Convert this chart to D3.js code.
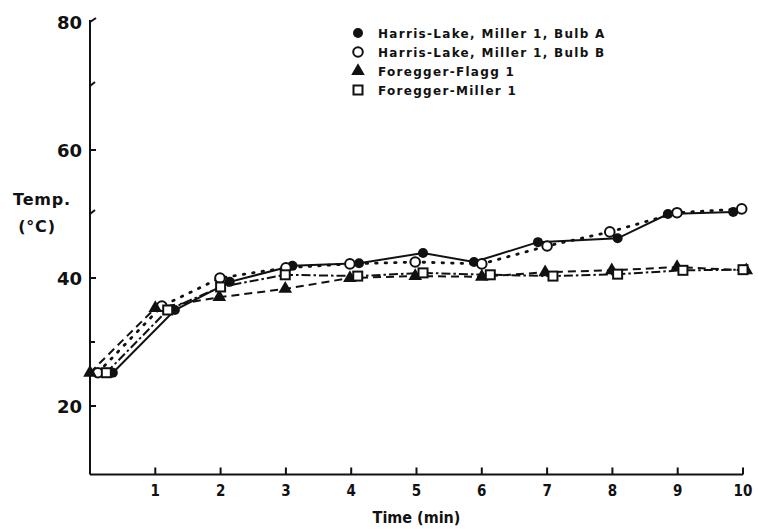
<!DOCTYPE html>
<html>
<head>
<meta charset="utf-8">
<script src="https://cdn.jsdelivr.net/npm/d3@7"></script>
<style>
    body { margin: 0; background: #fff; }
    text { font-family: "DejaVu Sans", Lato, sans-serif; font-weight: bold; fill: #111; }
    .narrow { font-family: "DejaVu Sans Condensed", "DejaVu Sans", sans-serif; }
</style>
</head>
<body>
<div id="chart"></div>
<script>
// Values (time in min, temperature in °C)
const bulbATimes = [0.35, 1.3, 2.14, 3.1, 4.12, 5.1, 5.88, 6.86, 8.08, 8.85, 9.85];
const bulbATemps = [25.2, 35.0, 39.4, 41.9, 42.3, 43.9, 42.5, 45.6, 46.2, 50.0, 50.3];

const bulbBTimes = [0.12, 1.1, 1.99, 3.0, 3.98, 4.98, 6.0, 7.0, 7.96, 8.99, 9.98];
const bulbBTemps = [25.2, 35.6, 40.0, 41.6, 42.2, 42.5, 42.2, 45.0, 47.2, 50.2, 50.8];

const flaggTimes = [0, 1.0, 1.98, 2.99, 3.98, 4.98, 6.0, 6.97, 7.99, 8.99, 10.05];
const flaggTemps = [25.2, 35.3, 37.0, 38.3, 40.0, 40.3, 40.2, 40.9, 41.2, 41.7, 41.2];

const millerTimes = [0.25, 1.19, 2.0, 2.99, 4.1, 5.1, 6.13, 7.09, 8.08, 9.08, 10.0];
const millerTemps = [25.2, 35.0, 38.6, 40.5, 40.3, 40.8, 40.5, 40.3, 40.6, 41.2, 41.3];

const seriesNames = [
    'Harris-Lake, Miller 1, Bulb A',
    'Harris-Lake, Miller 1, Bulb B',
    'Foregger-Flagg 1',
    'Foregger-Miller 1'
];

const xTicks = [1, 2, 3, 4, 5, 6, 7, 8, 9, 10];
const yTicks = [20, 30, 40, 50, 60, 70, 80];
const yLabels = [20, 40, 60, 80];

const width = 758;
const height = 529;

const svg = d3.select('#chart')
    .append('svg')
    .attr('width', width)
    .attr('height', height);

// Scales
const xScale = d3.scaleLinear().domain([0, 10]).range([90, 743]);
const yScale = d3.scaleLinear().domain([10, 80]).range([470, 22]);
const yBase = 9.3; // where the time axis sits

// Axes (ticks point inward like the original)
const axisG = svg.append('g').attr('stroke', '#111').attr('stroke-width', 2);

axisG.append('line')
    .attr('x1', xScale(0)).attr('x2', xScale(0))
    .attr('y1', yScale(80) - 2).attr('y2', yScale(yBase));

axisG.append('line')
    .attr('x1', xScale(0)).attr('x2', xScale(10))
    .attr('y1', yScale(yBase)).attr('y2', yScale(yBase));

axisG.selectAll('.ytick')
    .data(yTicks)
    .enter()
    .append('line')
    .attr('x1', xScale(0))
    .attr('x2', d => xScale(0) + (d % 20 === 0 ? 6 : 5))
    .attr('y1', d => yScale(d))
    .attr('y2', d => yScale(d) - (d === 50 || d >= 70 ? 4 : 0));

axisG.selectAll('.xtick')
    .data(xTicks)
    .enter()
    .append('line')
    .attr('x1', d => xScale(d)).attr('x2', d => xScale(d))
    .attr('y1', yScale(yBase)).attr('y2', yScale(yBase) - 7);

svg.selectAll('.ylabel')
    .data(yLabels)
    .enter()
    .append('text')
    .attr('x', xScale(0) - 8)
    .attr('y', d => yScale(d) + 7)
    .attr('text-anchor', 'end')
    .style('font-size', '18px')
    .text(d => d);

svg.selectAll('.xlabel')
    .data(xTicks)
    .enter()
    .append('text')
    .attr('class', 'narrow')
    .attr('x', d => xScale(d))
    .attr('y', yScale(yBase) + 22)
    .attr('text-anchor', 'middle')
    .style('font-size', '15px')
    .text(d => d);

svg.append('text')
    .attr('class', 'narrow')
    .attr('x', xScale(5))
    .attr('y', 523)
    .attr('text-anchor', 'middle')
    .style('font-size', '16px')
    .text('Time (min)');

svg.append('text')
    .attr('x', 42)
    .attr('y', 205)
    .attr('text-anchor', 'middle')
    .style('font-size', '16px')
    .style('letter-spacing', '0.8px')
    .text('Temp.');

svg.append('text')
    .attr('x', 37)
    .attr('y', 232)
    .attr('text-anchor', 'middle')
    .style('font-size', '16px')
    .style('letter-spacing', '0.8px')
    .text('(°C)');

// Series setup
const series = [
    { name: seriesNames[0], times: bulbATimes, temps: bulbATemps, dash: null, marker: 'filledCircle' },
    { name: seriesNames[1], times: bulbBTimes, temps: bulbBTemps, dash: '1.5,8', marker: 'openCircle' },
    { name: seriesNames[2], times: flaggTimes, temps: flaggTemps, dash: '8,5', marker: 'triangle' },
    { name: seriesNames[3], times: millerTimes, temps: millerTemps, dash: '9,3,2.5,3', marker: 'square' }
];

const line = d3.line()
    .x(d => xScale(d.t))
    .y(d => yScale(d.v));

series.forEach(s => {
    s.points = s.times.map((t, i) => ({ t, v: s.temps[i] }));
});

// Lines first, markers on top
series.forEach(s => {
    const dotted = s.marker === 'openCircle';
    svg.append('path')
        .datum(s.points)
        .attr('d', line)
        .attr('fill', 'none')
        .attr('stroke', '#111')
        .attr('stroke-width', dotted ? 2.8 : 2)
        .attr('stroke-linecap', dotted ? 'round' : 'butt')
        .attr('stroke-dasharray', s.dash);
});

function drawMarker(g, type) {
    if (type === 'filledCircle') {
        g.append('circle').attr('r', 5).attr('fill', '#111');
    } else if (type === 'openCircle') {
        g.append('circle').attr('r', 4.8).attr('fill', '#fff').attr('stroke', '#111').attr('stroke-width', 2);
    } else if (type === 'triangle') {
        g.append('path').attr('d', d3.symbol(d3.symbolTriangle, 80)).attr('fill', '#111');
    } else {
        g.append('rect').attr('x', -4.5).attr('y', -4.5).attr('width', 9).attr('height', 9)
            .attr('fill', '#fff').attr('stroke', '#111').attr('stroke-width', 2);
    }
}

series.forEach(s => {
    svg.selectAll(null)
        .data(s.points)
        .enter()
        .append('g')
        .attr('transform', d => `translate(${xScale(d.t)},${yScale(d.v)})`)
        .each(function() { drawMarker(d3.select(this), s.marker); });
});

// Legend
const legend = svg.append('g').attr('transform', 'translate(358,33)');

series.forEach((s, i) => {
    const row = legend.append('g').attr('transform', `translate(0,${i * 19})`);
    drawMarker(row.append('g'), s.marker);
    row.append('text')
        .attr('x', 20)
        .attr('y', 5)
        .style('font-size', '12px')
        .style('letter-spacing', '1.3px')
        .text(s.name);
});
</script>
</body>
</html>
